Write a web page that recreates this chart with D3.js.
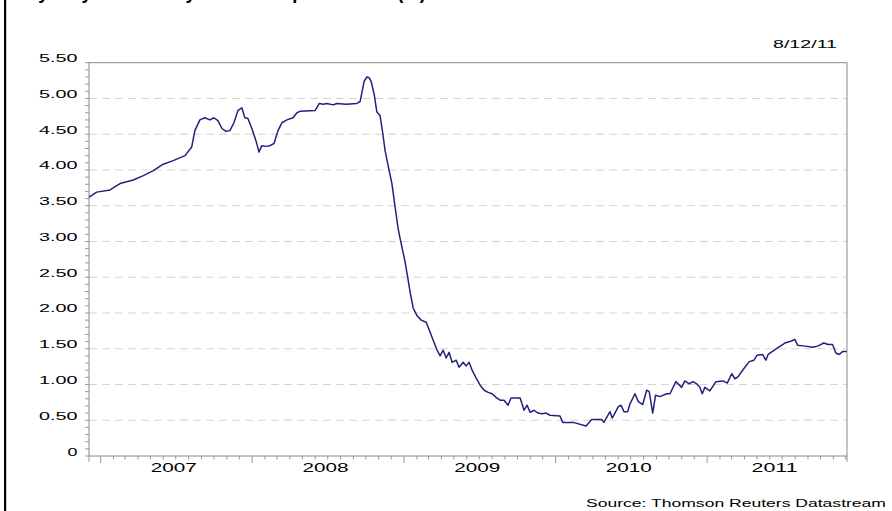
<!DOCTYPE html>
<html>
<head>
<meta charset="utf-8">
<script src="https://cdn.jsdelivr.net/npm/d3@7"></script>
<style>
  body { margin: 0; background: #fff; }
  svg { display: block; font-family: "Liberation Sans", Arial, sans-serif; }
</style>
</head>
<body>
<div id="chart"></div>
<script>
// Data: time as decimal year, value in %
const TIMES = [
  2006.924, 2006.974, 2007.062, 2007.128, 2007.216, 2007.282, 2007.348, 2007.413, 2007.479, 2007.557,
  2007.601, 2007.622, 2007.655, 2007.688, 2007.721, 2007.748, 2007.774, 2007.801, 2007.827, 2007.853,
  2007.880, 2007.906, 2007.932, 2007.952, 2007.972, 2007.998, 2008.025, 2008.045, 2008.064, 2008.091,
  2008.117, 2008.144, 2008.170, 2008.196, 2008.229, 2008.269, 2008.295, 2008.315, 2008.414, 2008.442,
  2008.469, 2008.491, 2008.534, 2008.557, 2008.618, 2008.689, 2008.711, 2008.737, 2008.755, 2008.770,
  2008.783, 2008.803, 2008.821, 2008.842, 2008.860, 2008.875, 2008.897, 2008.920, 2008.941, 2008.961,
  2008.974, 2008.994, 2009.007, 2009.027, 2009.040, 2009.060, 2009.086, 2009.113, 2009.146, 2009.172,
  2009.192, 2009.218, 2009.238, 2009.258, 2009.278, 2009.297, 2009.317, 2009.344, 2009.363, 2009.390,
  2009.410, 2009.429, 2009.449, 2009.476, 2009.502, 2009.528, 2009.555, 2009.581, 2009.607, 2009.634,
  2009.660, 2009.686, 2009.706, 2009.739, 2009.766, 2009.792, 2009.812, 2009.832, 2009.858, 2009.884,
  2009.911, 2009.937, 2009.963, 2010.029, 2010.047, 2010.117, 2010.201, 2010.238, 2010.304, 2010.319,
  2010.359, 2010.374, 2010.414, 2010.432, 2010.451, 2010.476, 2010.491, 2010.524, 2010.546, 2010.575,
  2010.601, 2010.618, 2010.641, 2010.660, 2010.689, 2010.733, 2010.755, 2010.794, 2010.832, 2010.853,
  2010.882, 2010.908, 2010.931, 2010.952, 2010.968, 2010.985, 2011.018, 2011.058, 2011.106, 2011.133,
  2011.162, 2011.184, 2011.205, 2011.238, 2011.278, 2011.309, 2011.330, 2011.366, 2011.388, 2011.403,
  2011.458, 2011.513, 2011.546, 2011.579, 2011.597, 2011.634, 2011.700, 2011.733, 2011.770, 2011.799,
  2011.828, 2011.850, 2011.871, 2011.894, 2011.921
];
const VALUES = [
  3.62, 3.69, 3.72, 3.81, 3.86, 3.92, 3.99, 4.08, 4.13, 4.20,
  4.32, 4.55, 4.70, 4.73, 4.70, 4.73, 4.69, 4.58, 4.54, 4.55,
  4.66, 4.83, 4.87, 4.73, 4.72, 4.58, 4.41, 4.25, 4.34, 4.33,
  4.34, 4.37, 4.55, 4.66, 4.70, 4.73, 4.80, 4.82, 4.83, 4.93,
  4.92, 4.93, 4.91, 4.93, 4.92, 4.93, 4.96, 5.24, 5.30, 5.29,
  5.24, 5.06, 4.81, 4.76, 4.51, 4.27, 4.04, 3.81, 3.48, 3.18,
  3.04, 2.84, 2.71, 2.46, 2.29, 2.07, 1.96, 1.90, 1.87, 1.73,
  1.62, 1.48, 1.40, 1.48, 1.37, 1.45, 1.31, 1.34, 1.24, 1.31,
  1.26, 1.31, 1.20, 1.09, 0.99, 0.92, 0.89, 0.87, 0.82, 0.78,
  0.78, 0.71, 0.81, 0.81, 0.81, 0.64, 0.71, 0.61, 0.64, 0.60,
  0.59, 0.60, 0.57, 0.56, 0.47, 0.47, 0.42, 0.51, 0.51, 0.47,
  0.62, 0.53, 0.69, 0.71, 0.62, 0.62, 0.73, 0.87, 0.76, 0.72,
  0.92, 0.90, 0.60, 0.85, 0.83, 0.87, 0.87, 1.04, 0.96, 1.05,
  1.01, 1.04, 1.01, 0.96, 0.87, 0.96, 0.91, 1.04, 1.05, 1.02,
  1.15, 1.08, 1.11, 1.21, 1.32, 1.34, 1.41, 1.42, 1.34, 1.42,
  1.50, 1.58, 1.60, 1.63, 1.55, 1.54, 1.52, 1.54, 1.58, 1.56,
  1.56, 1.44, 1.42, 1.46, 1.46
];
const Y_TICKS = [0, 0.5, 1, 1.5, 2, 2.5, 3, 3.5, 4, 4.5, 5, 5.5];
const YEARS = [2007, 2008, 2009, 2010, 2011];
const TITLE = 'Sydney interbank yield on 3m prime rates (%)';
const DATE_LABEL = '8/12/11';
const SOURCE = 'Source: Thomson Reuters Datastream';

const W = 892, H = 511;
const plot = { left: 89, right: 847, top: 62.7, bottom: 456 };

// decimal year -> Date
function toDate(t) {
  const yr = Math.floor(t);
  const a = new Date(yr, 0, 1), b = new Date(yr + 1, 0, 1);
  return new Date(+a + (t - yr) * (b - a));
}
const data = TIMES.map((t, i) => ({ date: toDate(t), v: VALUES[i] }));

const svg = d3.select('#chart').append('svg')
  .attr('width', W).attr('height', H);

const x = d3.scaleTime()
  .domain([new Date(2006, 11, 4), new Date(2011, 11, 4)])
  .range([plot.left, plot.right]);
const y = d3.scaleLinear().domain([0, 5.5]).range([plot.bottom, plot.top]);

// left black rule
svg.append('rect').attr('x', 4).attr('y', 0).attr('width', 2.2).attr('height', H).attr('fill', '#000');

// title, cut off at the top edge as in the source picture
svg.append('text')
  .attr('x', 26).attr('y', -1)
  .attr('font-size', 20).attr('font-weight', 'bold')
  .attr('textLength', 400).attr('lengthAdjust', 'spacingAndGlyphs')
  .text(TITLE);

// grid
svg.append('g').selectAll('line')
  .data(Y_TICKS.filter(d => d > 0 && d < 5.5)).enter().append('line')
  .attr('x1', plot.left).attr('x2', plot.right)
  .attr('y1', d => y(d)).attr('y2', d => y(d))
  .attr('stroke', '#d4d4d4').attr('stroke-width', 1)
  .attr('stroke-dasharray', '8,5');

// y minor ticks
svg.append('g').selectAll('line')
  .data(d3.range(0, 56).map(i => i / 10)).enter().append('line')
  .attr('x1', plot.left - 4).attr('x2', plot.left)
  .attr('y1', d => y(d)).attr('y2', d => y(d))
  .attr('stroke', '#999').attr('stroke-width', 1);

// y labels (sit on the grid line)
svg.append('g').selectAll('text')
  .data(Y_TICKS).enter().append('text')
  .attr('x', 77.5).attr('y', d => y(d) - 0.5)
  .attr('text-anchor', 'end')
  .attr('font-size', 10.5)
  .attr('textLength', d => d === 0 ? 10 : 38.5)
  .attr('lengthAdjust', 'spacingAndGlyphs')
  .text(d => d === 0 ? '0' : d.toFixed(2));

// x ticks: monthly, longer at each year
const months = x.ticks(d3.timeMonth.every(1));
svg.append('g').selectAll('line')
  .data(months).enter().append('line')
  .attr('x1', d => x(d)).attr('x2', d => x(d))
  .attr('y1', plot.bottom)
  .attr('y2', d => plot.bottom + (d.getMonth() === 0 ? 7 : 3.5))
  .attr('stroke', '#999').attr('stroke-width', 1);
svg.append('g').selectAll('line')
  .data(x.domain()).enter().append('line')
  .attr('x1', d => x(d)).attr('x2', d => x(d))
  .attr('y1', plot.bottom).attr('y2', plot.bottom + 6)
  .attr('stroke', '#999').attr('stroke-width', 1);

// year labels centred in each year (clipped to the axis)
svg.append('g').selectAll('text')
  .data(YEARS).enter().append('text')
  .attr('x', d => {
    const a = Math.max(x(new Date(d, 0, 1)), plot.left);
    const b = Math.min(x(new Date(d + 1, 0, 1)), plot.right);
    return (a + b) / 2 - 2.5;
  })
  .attr('y', 472)
  .attr('text-anchor', 'middle')
  .attr('font-size', 12)
  .attr('textLength', 46).attr('lengthAdjust', 'spacingAndGlyphs')
  .text(d => d);

// frame
svg.append('rect')
  .attr('x', plot.left).attr('y', plot.top)
  .attr('width', plot.right - plot.left).attr('height', plot.bottom - plot.top)
  .attr('fill', 'none').attr('stroke', '#8a8a8a').attr('stroke-width', 1);

// series
svg.append('path')
  .datum(data)
  .attr('d', d3.line().x(d => x(d.date)).y(d => y(d.v)))
  .attr('fill', 'none')
  .attr('stroke', '#22227e').attr('stroke-width', 1.5)
  .attr('stroke-linejoin', 'round');

// date stamp and source
svg.append('text')
  .attr('x', 773).attr('y', 47.5)
  .attr('font-size', 10)
  .attr('textLength', 64).attr('lengthAdjust', 'spacingAndGlyphs')
  .text(DATE_LABEL);
svg.append('text')
  .attr('x', 586).attr('y', 506.5)
  .attr('font-size', 11)
  .attr('textLength', 300).attr('lengthAdjust', 'spacingAndGlyphs')
  .text(SOURCE);
</script>
</body>
</html>
